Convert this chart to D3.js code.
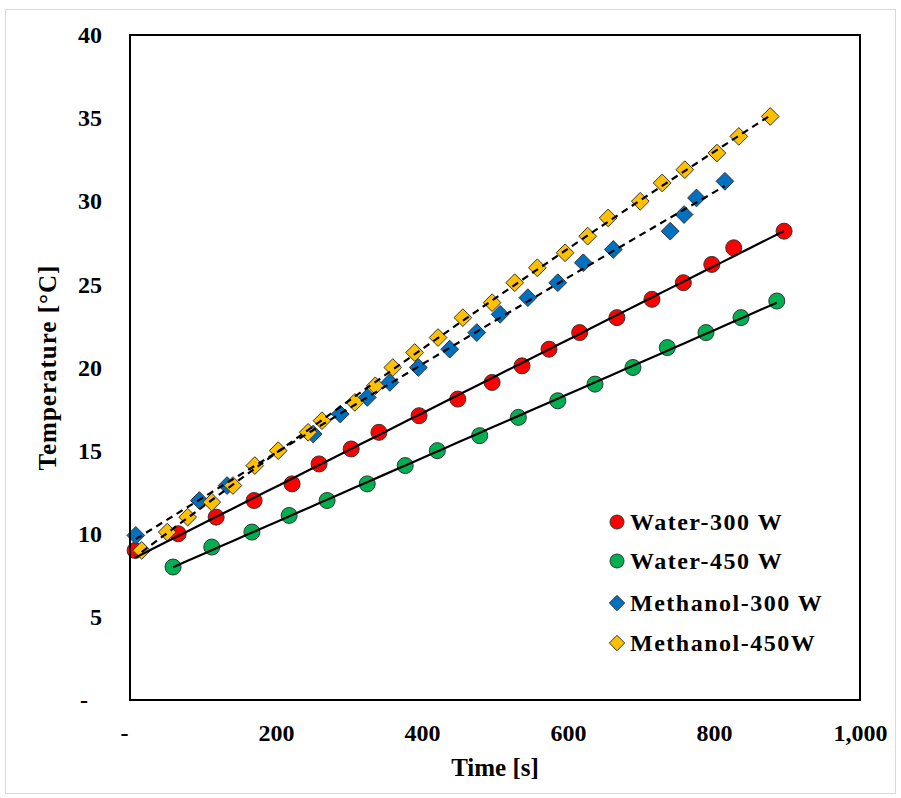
<!DOCTYPE html>
<html>
<head>
<meta charset="utf-8">
<script src="https://cdn.jsdelivr.net/npm/d3@7"></script>
<style>
  body { margin: 0; background: #fff; }
  text { font-family: "Liberation Serif", "Times New Roman", serif; font-weight: bold; }
</style>
</head>
<body>
<div id="chart"></div>
<script>
// data (time in s, temperature in degC)
const water300X = [7, 66, 118, 170, 222, 259, 303, 341, 396, 449, 496, 537, 574, 616, 667, 715, 758, 797, 827, 896];
const water300Y = [9.0, 10.0, 11.0, 12.0, 13.0, 14.2, 15.1, 16.1, 17.1, 18.1, 19.1, 20.1, 21.1, 22.1, 23.0, 24.1, 25.1, 26.2, 27.2, 28.2];
const water450X = [59, 112, 167, 218, 270, 325, 377, 421, 479, 532, 586, 637, 689, 736, 789, 837, 886];
const water450Y = [8.0, 9.2, 10.1, 11.1, 12.0, 13.0, 14.1, 15.0, 15.9, 17.0, 18.0, 19.0, 20.0, 21.2, 22.1, 23.0, 24.0];
const meth300X = [8, 95, 133, 251, 288, 325, 356, 395, 438, 475, 507, 545, 586, 621, 662, 740, 759, 776, 815];
const meth300Y = [9.9, 12.0, 12.9, 16.0, 17.2, 18.2, 19.1, 20.0, 21.1, 22.1, 23.2, 24.2, 25.1, 26.3, 27.1, 28.2, 29.2, 30.2, 31.2];
const meth450X = [16, 51, 79, 112, 141, 171, 203, 244, 263, 308, 336, 360, 390, 422, 456, 496, 527, 558, 596, 627, 655, 699, 729, 760, 804, 834, 877];
const meth450Y = [9.0, 10.1, 11.0, 11.9, 12.9, 14.1, 15.0, 16.1, 16.8, 17.9, 18.9, 20.0, 20.9, 21.8, 23.0, 23.9, 25.1, 26.0, 26.9, 27.9, 29.0, 30.0, 31.1, 31.9, 32.9, 33.9, 35.1];

const seriesNames = ["Water-300 W", "Water-450 W", "Methanol-300 W", "Methanol-450W"];
const xTicks = [0, 200, 400, 600, 800, 1000];
const yTicks = [0, 5, 10, 15, 20, 25, 30, 35, 40];

const series = [
  { name: seriesNames[0], xs: water300X, ys: water300Y, shape: "circle", color: "#ff0000", fit: 1 },
  { name: seriesNames[1], xs: water450X, ys: water450Y, shape: "circle", color: "#00b050", fit: 1 },
  { name: seriesNames[2], xs: meth300X, ys: meth300Y, shape: "diamond", color: "#0070c0", fit: 2 },
  { name: seriesNames[3], xs: meth450X, ys: meth450Y, shape: "diamond", color: "#ffc000", fit: 2 }
];

const W = 901, H = 798;
const pLeft = 130, pRight = 860, pTop = 35, pBottom = 700;

const svg = d3.select("#chart").append("svg")
  .attr("width", W)
  .attr("height", H);

svg.append("rect")
  .attr("x", 5.5).attr("y", 9.5)
  .attr("width", W - 11).attr("height", H - 14)
  .attr("fill", "#fff")
  .attr("stroke", "#d9d9d9");

const x = d3.scaleLinear().domain([0, 1000]).range([pLeft, pRight]);
const y = d3.scaleLinear().domain([0, 40]).range([pBottom, pTop]);

// least squares polynomial fit (order 1 or 2)
function polyFit(xs, ys, order) {
  const n = order + 1;
  const A = [], b = [];
  for (let i = 0; i < n; i++) {
    A.push([]);
    for (let j = 0; j < n; j++) A[i].push(d3.sum(xs, v => Math.pow(v, i + j)));
    b.push(d3.sum(xs, (v, k) => Math.pow(v, i) * ys[k]));
  }
  // gauss elimination
  for (let i = 0; i < n; i++) {
    for (let k = i + 1; k < n; k++) {
      const f = A[k][i] / A[i][i];
      for (let j = i; j < n; j++) A[k][j] -= f * A[i][j];
      b[k] -= f * b[i];
    }
  }
  const c = new Array(n).fill(0);
  for (let i = n - 1; i >= 0; i--) {
    let s = b[i];
    for (let j = i + 1; j < n; j++) s -= A[i][j] * c[j];
    c[i] = s / A[i][i];
  }
  return t => c.reduce((acc, ci, i) => acc + ci * Math.pow(t, i), 0);
}

// axes
const xAxis = d3.axisBottom(x)
  .tickValues(xTicks)
  .tickSize(0)
  .tickPadding(24)
  .tickFormat(d => d === 0 ? "-" : d3.format(",")(d));
const gx = svg.append("g").attr("transform", `translate(0,${pBottom})`).call(xAxis);
gx.select(".domain").remove();
gx.attr("font-family", null).attr("font-size", null);
gx.selectAll("text")
  .attr("font-size", 24)
  .attr("fill", "#000")
  .attr("dx", d => d === 0 ? -6 : 0);

const yAxis = d3.axisLeft(y)
  .tickValues(yTicks)
  .tickSize(0)
  .tickPadding(28)
  .tickFormat(d => d === 0 ? "-" : d);
const gy = svg.append("g").attr("transform", `translate(${pLeft},0)`).call(yAxis);
gy.select(".domain").remove();
gy.attr("font-family", null).attr("font-size", null);
gy.selectAll("text")
  .attr("font-size", 24)
  .attr("fill", "#000")
  .attr("dx", d => d === 0 ? -14 : 0);

// markers
const diamond = d3.symbol().type(d3.symbolDiamond2).size(200);
series.forEach(s => {
  const g = svg.append("g");
  const pts = s.xs.map((v, i) => [v, s.ys[i]]);
  if (s.shape === "circle") {
    g.selectAll("circle").data(pts).join("circle")
      .attr("cx", d => x(d[0]))
      .attr("cy", d => y(d[1]))
      .attr("r", 8)
      .attr("fill", s.color)
      .attr("stroke", "#333")
      .attr("stroke-width", 1);
  } else {
    g.selectAll("path").data(pts).join("path")
      .attr("transform", d => `translate(${x(d[0])},${y(d[1])})`)
      .attr("d", diamond)
      .attr("fill", s.color)
      .attr("stroke", "#333")
      .attr("stroke-width", 1);
  }
});

// trend lines
const line = d3.line().x(d => x(d[0])).y(d => y(d[1]));
series.forEach(s => {
  const f = polyFit(s.xs, s.ys, s.fit);
  const x0 = d3.min(s.xs), x1 = d3.max(s.xs);
  const pts = d3.range(0, 41).map(i => {
    const t = x0 + (x1 - x0) * i / 40;
    return [t, f(t)];
  });
  svg.append("path")
    .attr("d", line(pts))
    .attr("fill", "none")
    .attr("stroke", "#000")
    .attr("stroke-width", 2.2)
    .attr("stroke-dasharray", s.fit === 2 ? "7,5" : null);
});

// plot frame
svg.append("rect")
  .attr("x", pLeft).attr("y", pTop)
  .attr("width", pRight - pLeft).attr("height", pBottom - pTop)
  .attr("fill", "none")
  .attr("stroke", "#000")
  .attr("stroke-width", 2);

// axis titles
svg.append("text")
  .attr("x", (pLeft + pRight) / 2)
  .attr("y", 776)
  .attr("text-anchor", "middle")
  .attr("font-size", 25)
  .text("Time [s]");

svg.append("text")
  .attr("transform", `translate(56,${(pTop + pBottom) / 2}) rotate(-90)`)
  .attr("text-anchor", "middle")
  .attr("font-size", 25)
  .attr("letter-spacing", 1)
  .text("Temperature [°C]");

// legend
const legendY = [522, 561, 603, 643];
const lg = svg.append("g");
series.forEach((s, i) => {
  if (s.shape === "circle") {
    lg.append("circle")
      .attr("cx", 617).attr("cy", legendY[i]).attr("r", 7)
      .attr("fill", s.color).attr("stroke", "#333");
  } else {
    lg.append("path")
      .attr("transform", `translate(617,${legendY[i]})`)
      .attr("d", d3.symbol().type(d3.symbolDiamond2).size(150))
      .attr("fill", s.color).attr("stroke", "#333");
  }
  lg.append("text")
    .attr("x", 630)
    .attr("y", legendY[i] + 8)
    .attr("font-size", 24)
    .attr("letter-spacing", 1.5)
    .text(s.name);
});
</script>
</body>
</html>
